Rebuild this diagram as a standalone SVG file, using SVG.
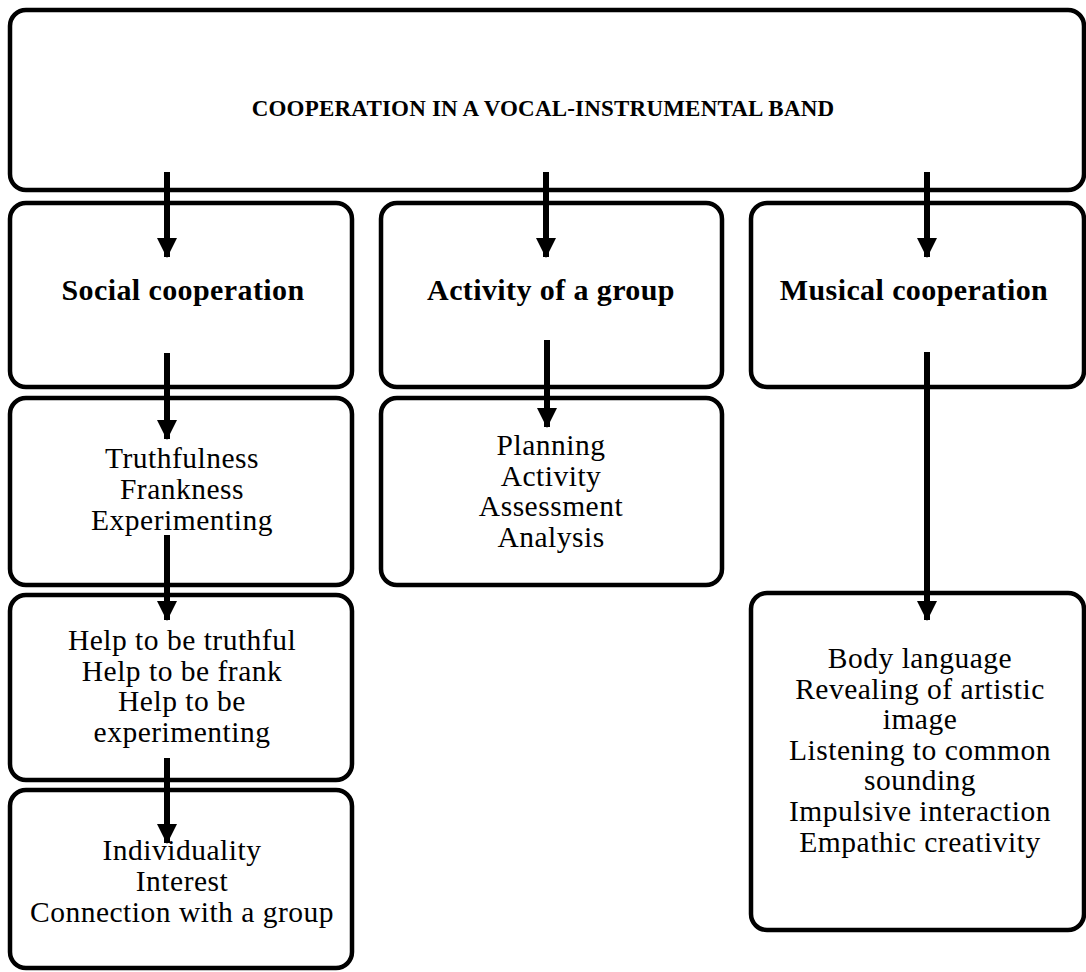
<svg xmlns="http://www.w3.org/2000/svg" width="1086" height="972" viewBox="0 0 1086 972">
<style>
.box{fill:#fff;stroke:#000;stroke-width:4.5}
.t{font-family:"Liberation Serif","DejaVu Serif",serif;fill:#000;text-anchor:middle}
.title{font-size:23px;font-weight:bold;letter-spacing:0.2px}
.head{font-size:30px;font-weight:bold;letter-spacing:0.4px}
.body{font-size:29.5px;letter-spacing:0.5px}
.arr{stroke:#000;stroke-width:6;fill:none}
</style>
<defs>
<marker id="ah" markerUnits="userSpaceOnUse" markerWidth="20" markerHeight="20" viewBox="0 0 20 20" refX="19" refY="10" orient="auto">
<path d="M0,0 L20,10 L0,20 Z" fill="#000"/>
</marker>
</defs>
<rect width="1086" height="972" fill="#fff"/>
<g id="n-top"><rect class="box" x="10" y="10" width="1074" height="180" rx="16"/>
<text class="t title" x="543" y="116">COOPERATION IN A VOCAL-INSTRUMENTAL BAND</text></g>
<g id="n-social"><rect class="box" x="10" y="203" width="342" height="184" rx="16"/>
<text class="t head" x="183" y="300">Social cooperation</text></g>
<g id="n-activity"><rect class="box" x="381" y="203" width="341" height="184" rx="16"/>
<text class="t head" x="551" y="300">Activity of a group</text></g>
<g id="n-musical"><rect class="box" x="751" y="203" width="333" height="184" rx="16"/>
<text class="t head" x="914" y="300">Musical cooperation</text></g>
<g id="n-truth"><rect class="box" x="10" y="398" width="342" height="187" rx="16"/>
<text class="t body"><tspan x="182" y="468">Truthfulness</tspan><tspan x="182" y="499">Frankness</tspan><tspan x="182" y="530">Experimenting</tspan></text></g>
<g id="n-planning"><rect class="box" x="381" y="398" width="341" height="187" rx="16"/>
<text class="t body"><tspan x="551" y="455">Planning</tspan><tspan x="551" y="486">Activity</tspan><tspan x="551" y="516">Assessment</tspan><tspan x="551" y="547">Analysis</tspan></text></g>
<g id="n-help"><rect class="box" x="10" y="595" width="342" height="185" rx="16"/>
<text class="t body"><tspan x="182" y="650">Help to be truthful</tspan><tspan x="182" y="681">Help to be frank</tspan><tspan x="182" y="711">Help to be</tspan><tspan x="182" y="742">experimenting</tspan></text></g>
<g id="n-indiv"><rect class="box" x="10" y="790" width="342" height="178" rx="16"/>
<text class="t body"><tspan x="182" y="860">Individuality</tspan><tspan x="182" y="891">Interest</tspan><tspan x="182" y="922">Connection with a group</tspan></text></g>
<g id="n-music"><rect class="box" x="751" y="593" width="333" height="337" rx="16"/>
<text class="t body"><tspan x="920" y="668">Body language</tspan><tspan x="920" y="699">Revealing of artistic</tspan><tspan x="920" y="729">image</tspan><tspan x="920" y="760">Listening to common</tspan><tspan x="920" y="790">sounding</tspan><tspan x="920" y="821">Impulsive interaction</tspan><tspan x="920" y="852">Empathic creativity</tspan></text></g>
<g id="connectors">
<line class="arr" x1="167" y1="172" x2="167" y2="257" marker-end="url(#ah)"/>
<line class="arr" x1="546" y1="172" x2="546" y2="257" marker-end="url(#ah)"/>
<line class="arr" x1="927" y1="172" x2="927" y2="257" marker-end="url(#ah)"/>
<line class="arr" x1="167" y1="353" x2="167" y2="439" marker-end="url(#ah)"/>
<line class="arr" x1="547" y1="340" x2="547" y2="427" marker-end="url(#ah)"/>
<line class="arr" x1="167" y1="535" x2="167" y2="620" marker-end="url(#ah)"/>
<line class="arr" x1="167" y1="758" x2="167" y2="843" marker-end="url(#ah)"/>
<line class="arr" x1="927" y1="352" x2="927" y2="620" marker-end="url(#ah)"/>
</g>
</svg>
